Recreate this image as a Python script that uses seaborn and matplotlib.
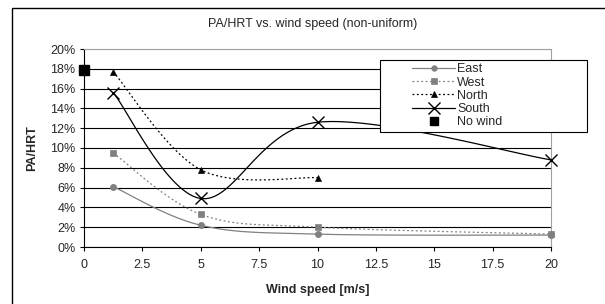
import numpy as np
import pandas as pd
import matplotlib
matplotlib.use('Agg')
import matplotlib.pyplot as plt
from matplotlib.lines import Line2D
from matplotlib.patches import Rectangle
import seaborn as sns

# data (PA/HRT in %)
east_x = [1.25, 5, 10, 20]
east_y = [6.1, 2.2, 1.3, 1.2]
west_x = [1.25, 5, 10, 20]
west_y = [9.5, 3.3, 2.0, 1.3]
north_x = [1.25, 5, 10]
north_y = [17.7, 7.8, 7.0]
south_x = [1.25, 5, 10, 20]
south_y = [15.6, 4.9, 12.6, 8.8]
nowind_x = [0]
nowind_y = [17.9]

x_ticks = [0, 2.5, 5, 7.5, 10, 12.5, 15, 17.5, 20]
y_ticks = [0, 2, 4, 6, 8, 10, 12, 14, 16, 18, 20]


def smooth(xs, ys, n=40):
    # excel-like smoothed line (catmull-rom bezier) for drawing only
    p = np.column_stack([xs, ys]).astype(float)
    p = np.vstack([p[0], p, p[-1]])
    out = []
    for i in range(1, len(p) - 2):
        p0, p1, p2, p3 = p[i - 1], p[i], p[i + 1], p[i + 2]
        c1 = p1 + (p2 - p0) / 6
        c2 = p2 - (p3 - p1) / 6
        t = np.linspace(0, 1, n)[:, None]
        seg = ((1 - t) ** 3) * p1 + 3 * ((1 - t) ** 2) * t * c1 + 3 * (1 - t) * t ** 2 * c2 + t ** 3 * p2
        out.append(seg if i == 1 else seg[1:])
    seg = np.vstack(out)
    return pd.DataFrame({'x': seg[:, 0], 'y': seg[:, 1]})


sns.set_style("white")
plt.rcParams['font.family'] = ['Liberation Sans', 'DejaVu Sans']

fig = plt.figure(figsize=(6.05, 3.04), dpi=100)
ax = fig.add_axes([84 / 605, 1 - 247 / 304, (551 - 84) / 605, (247 - 49) / 304])

gray = '#808080'
series = [
    ('East', east_x, east_y, gray, '-', 'o', 4.5, 0.9),
    ('West', west_x, west_y, gray, (0, (1.5, 2)), 's', 4.5, 0.9),
    ('North', north_x, north_y, 'black', (0, (1.5, 2)), '^', 5, 0.9),
    ('South', south_x, south_y, 'black', '-', 'x', 8, 0.9),
]

for y in y_ticks:
    ax.axhline(y, color='black' if y != 20 else '#a0a0a0', lw=0.8, zorder=1)

handles = []
for name, xs, ys, col, ls, mk, ms, lw in series:
    curve = smooth(xs, ys)
    sns.lineplot(data=curve, x='x', y='y', ax=ax, color=col, lw=lw, linestyle=ls,
                 sort=False, estimator=None, zorder=3)
    ax.plot(xs, ys, linestyle='none', marker=mk, color=col, ms=ms,
            mew=1.0 if mk == 'x' else 0.5, zorder=4, clip_on=False)
    handles.append(Line2D([], [], color=col, linestyle=ls, lw=lw, marker=mk,
                          ms=ms if mk == 'x' else ms - 0.5, mew=1.0 if mk == 'x' else 0.5))

ax.plot(nowind_x, nowind_y, linestyle='none', marker='s', color='black', ms=7, zorder=5, clip_on=False)
handles.append(Line2D([], [], linestyle='none', marker='s', color='black', ms=5.5))

ax.set_xlim(0, 20)
ax.set_ylim(0, 20)
ax.set_xticks(x_ticks)
ax.set_xticklabels(['0', '2.5', '5', '7.5', '10', '12.5', '15', '17.5', '20'], fontsize=9)
ax.set_yticks(y_ticks)
ax.set_yticklabels([f'{v}%' for v in y_ticks], fontsize=9)
ax.tick_params(axis='both', direction='out', length=3, width=0.8, color='black', pad=3,
               bottom=True, left=True)
ax.tick_params(axis='x', pad=6)
for s in ['left', 'bottom']:
    ax.spines[s].set_color('black')
    ax.spines[s].set_linewidth(0.8)
for s in ['top', 'right']:
    ax.spines[s].set_color('#a0a0a0')
    ax.spines[s].set_linewidth(0.8)

ax.set_xlabel('Wind speed [m/s]', fontsize=9, fontweight='bold', labelpad=9)
ax.set_ylabel('PA/HRT', fontsize=9, fontweight='bold', labelpad=9)
fig.text(313 / 605, 1 - 24 / 304, 'PA/HRT vs. wind speed (non-uniform)', fontsize=9,
         ha='center', va='center')

# legend box drawn separately so it can be as wide as in the original
fig.patches.append(Rectangle((380 / 605, 1 - 132 / 304), 207 / 605, 72 / 304,
                             transform=fig.transFigure, facecolor='white',
                             edgecolor='black', lw=0.8, zorder=9))
leg = fig.legend(handles, ['East', 'West', 'North', 'South', 'No wind'],
                 loc='upper left', bbox_to_anchor=(411 / 605, 1 - 62 / 304),
                 fontsize=9, frameon=False,
                 handlelength=3.4, handletextpad=0.2, labelspacing=0.1,
                 borderpad=0.1, borderaxespad=0)
leg.set_zorder(10)

# outer chart border
fig.patches.append(Rectangle((12 / 605, -0.1), 1.0, 1 - 8 / 304 + 0.1, transform=fig.transFigure,
                             fill=False, edgecolor='black', lw=1.0))

fig.savefig('out.png', dpi=100)
